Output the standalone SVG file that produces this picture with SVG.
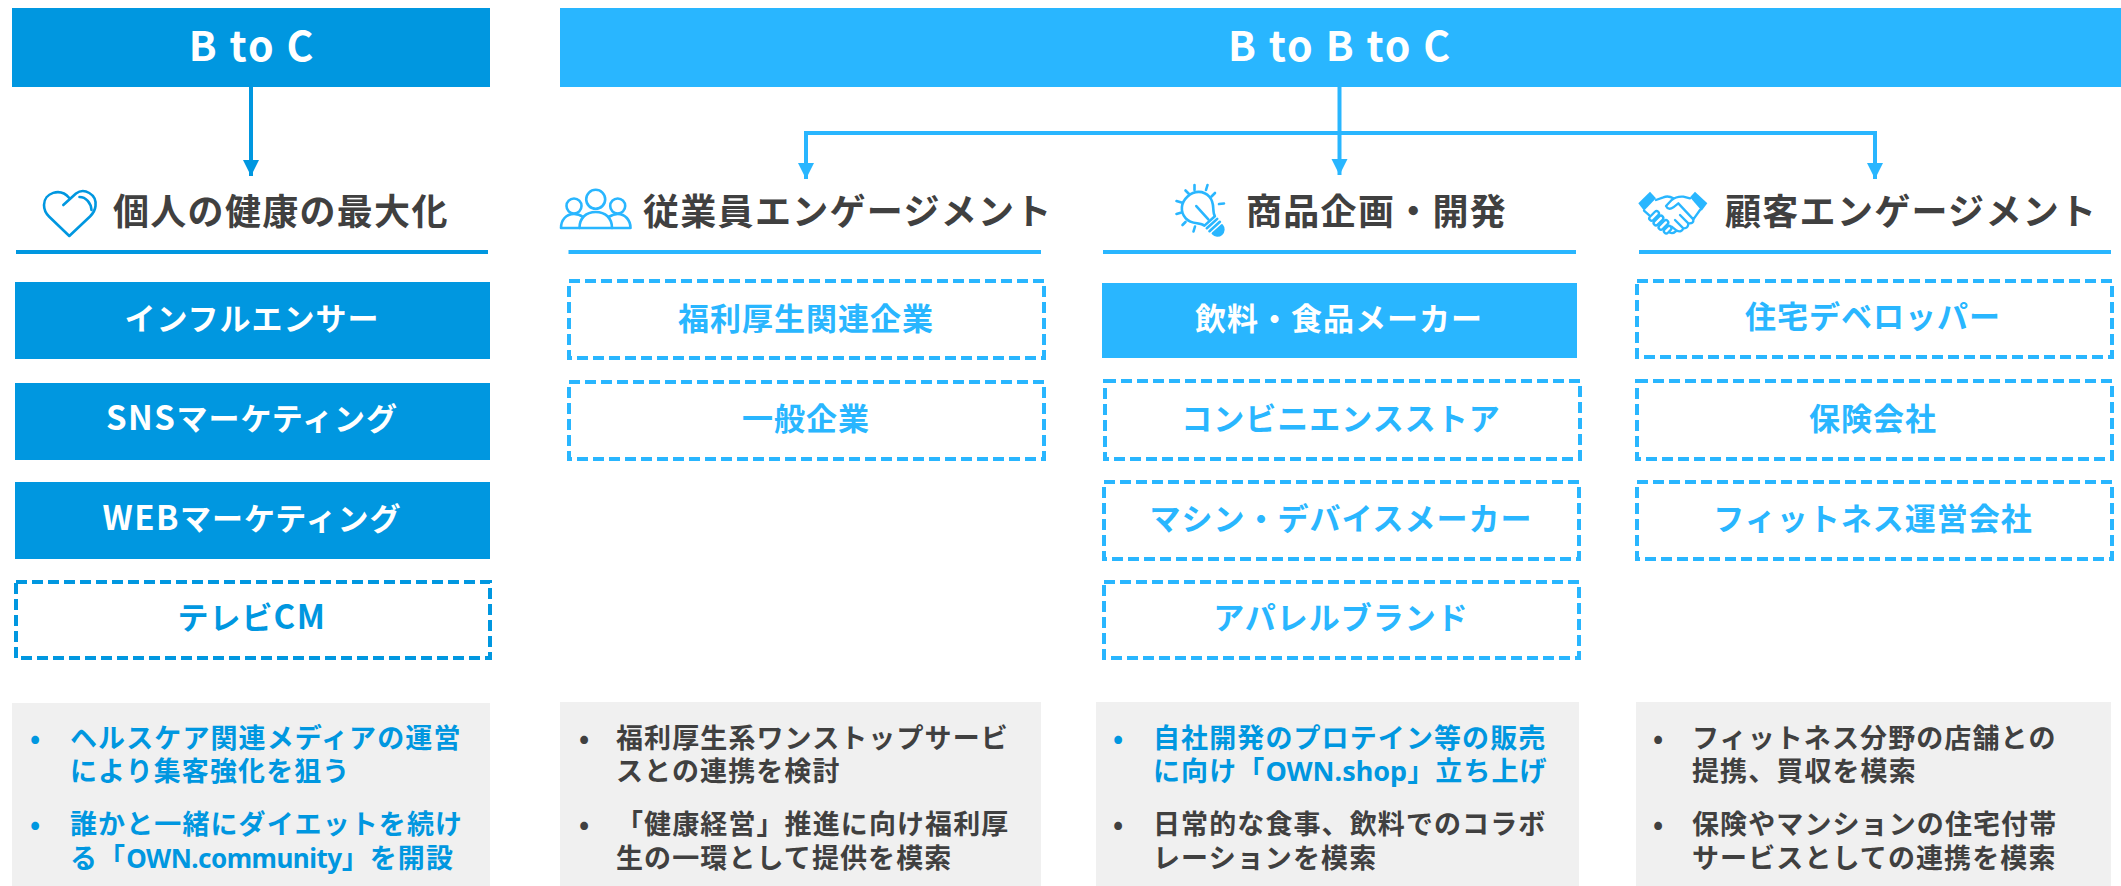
<svg xmlns="http://www.w3.org/2000/svg" width="2121" height="886" viewBox="0 0 2121 886">
<style>
text{font-family:"Noto Sans CJK JP","Noto Sans",sans-serif;font-weight:700}
.hd{font-size:41px;fill:#fff;text-anchor:middle;font-weight:700;letter-spacing:1.800px}
.tt{font-size:36px;fill:#404040;letter-spacing:1.300px}
.lb{font-size:31px;text-anchor:middle;letter-spacing:1px}
.w{fill:#fff}.a{fill:#0097e0}.b{fill:#29b6ff}
.dk{fill:#0097e0}.lt{fill:#29b6ff}
.da{fill:#fff;stroke:#0097e0;stroke-width:4;stroke-dasharray:11 5}
.db{fill:#fff;stroke:#29b6ff;stroke-width:4;stroke-dasharray:11 5}
.pn{fill:#f0f0f0}
.bt{font-size:27px;letter-spacing:1.100px;fill:#404040}
.ba{fill:#0097e0}
.ln{font-family:"Noto Sans",sans-serif;letter-spacing:0}
.lc{font-family:"Noto Sans",sans-serif;font-size:26px;letter-spacing:-.5px}
.lw{font-size:33px;letter-spacing:1.500px}
.ic{fill:none;stroke-width:2.6;stroke-linecap:round;stroke-linejoin:round}
</style>
<defs>
<marker id="ma" markerUnits="userSpaceOnUse" markerWidth="16" markerHeight="17" refX="16" refY="8" orient="auto"><path d="M0 0L16 8L0 16Z" fill="#0097e0"/></marker>
<marker id="mb" markerUnits="userSpaceOnUse" markerWidth="16" markerHeight="17" refX="16" refY="8" orient="auto"><path d="M0 0L16 8L0 16Z" fill="#29b6ff"/></marker>
</defs>

<g id="connectors" fill="none" stroke-width="4">
<path d="M251 87V176" stroke="#0097e0" marker-end="url(#ma)"/>
<path d="M1339.5 87V175" stroke="#29b6ff" marker-end="url(#mb)"/>
<path d="M1339.5 133H806V179" stroke="#29b6ff" marker-end="url(#mb)"/>
<path d="M1339.5 133H1875V179" stroke="#29b6ff" marker-end="url(#mb)"/>
</g>

<g id="btoc"><rect class="dk" x="12" y="8" width="478" height="79"/><text class="hd" x="252" y="61">B to C</text></g>
<g id="btobtoc"><rect class="lt" x="560" y="8" width="1561" height="79"/><text class="hd" x="1340" y="61">B to B to C</text></g>

<g id="head-health">
<g class="ic" stroke="#0097e0"><path d="M63.3 205L76 193.5C84 187.5 97 194 95.5 206C95 211 92.5 214 90 216.5L69.3 236L49 216.5C46 213.5 44 210 44 205C44 193 60 187 69.3 198"/><path d="M79.5 197C86 197 91 203 91.5 210"/></g>
<text class="tt" x="113" y="225">個人の健康の最大化</text>
<rect class="dk" x="16" y="250" width="472" height="4"/>
</g>
<g id="head-employee">
<g class="ic" stroke="#29b6ff"><circle cx="595.7" cy="199.3" r="9.5"/><circle cx="574" cy="206" r="7.5"/><circle cx="617.7" cy="206" r="7.5"/><path d="M579.5 228C579.5 218 586 212 595.7 212S612 218 612 228"/><path d="M583 217C579 214 576 214 574 214C566 214 561 220 561 228H630.5C630.5 220 625 214 617.7 214C615 214 612 215 608.500 217"/></g>
<text class="tt" x="643" y="225">従業員エンゲージメント</text>
<rect class="lt" x="568.500" y="250" width="472.500" height="4"/>
</g>
<g id="head-product">
<g class="ic" stroke="#29b6ff">
<g transform="translate(1198.3 208.3) rotate(-42)">
<path d="M-7 17C-8 11 -16 8 -16 -1C-16 -10 -9 -16 0 -16S16 -10 16 -1C16 8 8 11 7 17Z"/>
<path d="M0 -3V15M-7 20.500H7M-7 24.500H7"/>
<path d="M-6 28.500H6A6 6 0 0 1 -6 28.500Z" fill="#29b6ff"/>
</g>
<path d="M1194.500 185V190M1207.500 185L1206 190M1185.500 190.500L1189 194M1215 193L1211.500 196.500M1176.500 201L1181.500 202.500M1224 203.500L1219 204M1176.500 214L1181.500 212.500M1182.500 225L1185.500 222M1193.500 231.500L1195 226.500"/>
</g>
<text class="tt" x="1246" y="225">商品企画・開発</text>
<rect class="lt" x="1103" y="250" width="473" height="4"/>
</g>
<g id="head-customer">
<g transform="translate(1630 180) scale(.3333)">
<path d="M25 70L60 35L78 55L42 92Z" fill="#29b6ff"/><path d="M180 52L195 35L232 70L215 92Z" fill="#29b6ff"/>
<g fill="none" stroke="#29b6ff" stroke-width="7" stroke-linecap="round" stroke-linejoin="round">
<path d="M78 60L100 52Q115 46 130 55"/>
<path d="M180 55L160 50Q140 48 125 60L108 78Q115 92 130 82L145 70L190 118L210 90"/>
<path d="M190 118Q192 132 175 130L150 105M175 130Q175 146 160 145L135 120M160 145Q155 158 140 152L125 140M140 152Q127 165 115 155M42 92L58 106"/>
<rect x="55" y="101" width="35" height="14" rx="7" transform="rotate(-45 72 108)" fill="#fff"/>
<rect x="68" y="115" width="35" height="14" rx="7" transform="rotate(-45 85 122)" fill="#fff"/>
<rect x="83" y="128" width="35" height="14" rx="7" transform="rotate(-45 100 135)" fill="#fff"/>
<rect x="100" y="142" width="26" height="14" rx="7" transform="rotate(-45 113 149)" fill="#fff"/>
</g></g>
<text class="tt" x="1725" y="225">顧客エンゲージメント</text>
<rect class="lt" x="1639" y="250" width="472" height="4"/>
</g>

<g id="n-influencer"><rect class="dk" x="15" y="282" width="475" height="77"/><text class="lb w" x="252" y="330">インフルエンサー</text></g>
<g id="n-sns"><rect class="dk" x="15" y="383" width="475" height="77"/><text class="lb w" x="252" y="430"><tspan class="lw">SNS</tspan>マーケティング</text></g>
<g id="n-web"><rect class="dk" x="15" y="482" width="475" height="77"/><text class="lb w" x="252" y="530"><tspan class="lw">WEB</tspan>マーケティング</text></g>
<g id="n-tv"><rect class="da" x="16" y="582" width="474" height="76"/><text class="lb a" x="252" y="629">テレビ<tspan class="lw">CM</tspan></text></g>

<g id="n-welfare"><rect class="db" x="569" y="281" width="475" height="77"/><text class="lb b" x="806" y="330">福利厚生関連企業</text></g>
<g id="n-general"><rect class="db" x="569" y="382" width="475" height="77"/><text class="lb b" x="806" y="430">一般企業</text></g>

<g id="n-food"><rect class="lt" x="1102" y="283" width="475" height="75"/><text class="lb w" x="1339" y="330">飲料・食品メーカー</text></g>
<g id="n-conv"><rect class="db" x="1105" y="381" width="475" height="78"/><text class="lb b" x="1341" y="430">コンビニエンスストア</text></g>
<g id="n-device"><rect class="db" x="1104" y="482" width="475" height="77"/><text class="lb b" x="1341" y="530">マシン・デバイスメーカー</text></g>
<g id="n-apparel"><rect class="db" x="1104" y="582" width="475" height="76"/><text class="lb b" x="1341" y="629">アパレルブランド</text></g>

<g id="n-house"><rect class="db" x="1637" y="281" width="475" height="76"/><text class="lb b" x="1873" y="328">住宅デベロッパー</text></g>
<g id="n-insure"><rect class="db" x="1637" y="381" width="475" height="78"/><text class="lb b" x="1873" y="430">保険会社</text></g>
<g id="n-fitness"><rect class="db" x="1637" y="482" width="475" height="77"/><text class="lb b" x="1873" y="530">フィットネス運営会社</text></g>

<g id="p-btoc"><rect class="pn" x="12" y="703" width="478" height="183"/>
<text class="bt ba" x="30" y="748">•</text><text class="bt ba" x="70" y="748">ヘルスケア関連メディアの運営</text><text class="bt ba" x="70" y="781">により集客強化を狙う</text><text class="bt ba" x="30" y="834">•</text><text class="bt ba" x="70" y="834">誰かと一緒にダイエットを続け</text><text class="bt ba" x="70" y="868">る「<tspan class="lc">OWN.community</tspan>」を開設</text></g>
<g id="p-employee"><rect class="pn" x="560" y="702" width="481" height="184"/>
<text class="bt" x="579" y="748">•</text><text class="bt" x="616" y="748">福利厚生系ワンストップサービ</text><text class="bt" x="616" y="781">スとの連携を検討</text><text class="bt" x="579" y="834">•</text><text class="bt" x="616" y="834">「健康経営」推進に向け福利厚</text><text class="bt" x="616" y="868">生の一環として提供を模索</text></g>
<g id="p-product"><rect class="pn" x="1096" y="702" width="483" height="184"/>
<text class="bt ba" x="1113" y="748">•</text><text class="bt ba" x="1153" y="748">自社開発のプロテイン等の販売</text><text class="bt ba" x="1153" y="781">に向け「<tspan class="ln">OWN.shop</tspan>」立ち上げ</text><text class="bt" x="1113" y="834">•</text><text class="bt" x="1153" y="834">日常的な食事、飲料でのコラボ</text><text class="bt" x="1153" y="868">レーションを模索</text></g>
<g id="p-customer"><rect class="pn" x="1636" y="702" width="475" height="184"/>
<text class="bt" x="1653" y="748">•</text><text class="bt" x="1692" y="748">フィットネス分野の店舗との</text><text class="bt" x="1692" y="781">提携、買収を模索</text><text class="bt" x="1653" y="834">•</text><text class="bt" x="1692" y="834">保険やマンションの住宅付帯</text><text class="bt" x="1692" y="868">サービスとしての連携を模索</text></g>
</svg>
